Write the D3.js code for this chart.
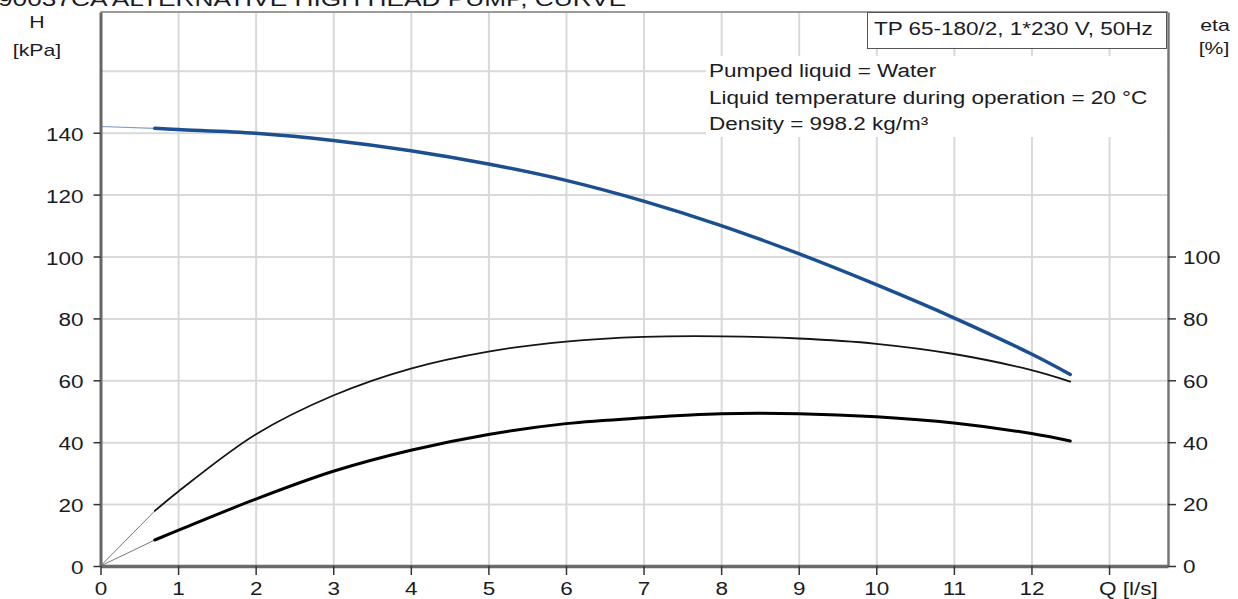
<!DOCTYPE html>
<html>
<head>
<meta charset="utf-8">
<script src="https://cdn.jsdelivr.net/npm/d3@7"></script>
<style>
    body { margin: 0; background: #fff; }
    svg { display: block; }
</style>
</head>
<body>
<svg id="chart" width="1238" height="599"></svg>
<script>
'use strict';

// flow points of the duty range, l/s
var flow = [0.7, 1, 2, 3, 4, 5, 6, 7, 8, 9, 10, 11, 12, 12.5];
var head = [141.4, 141.0, 139.8, 137.5, 134.2, 129.9, 124.6, 117.9, 110.0, 100.9, 90.9, 80.2, 68.5, 61.9];
var etaPump = [17.8, 24.0, 42.5, 55.1, 63.8, 69.3, 72.5, 74.0, 74.2, 73.5, 71.8, 68.5, 63.3, 59.6];
var etaTotal = [8.4, 11.5, 21.6, 30.6, 37.4, 42.5, 46.0, 47.9, 49.2, 49.2, 48.2, 46.2, 42.8, 40.4];

// thin lead-in from zero flow to the first duty point
var leadFlow = [0, 0.7];
var headLead = [142.0, 141.4];
var etaPumpLead = [0, 17.8];
var etaTotalLead = [0, 8.4];

var hTicks = [0, 20, 40, 60, 80, 100, 120, 140];
var etaTicks = [0, 20, 40, 60, 80, 100];
var qTicks = [0, 1, 2, 3, 4, 5, 6, 7, 8, 9, 10, 11, 12, 13];
var gridH = [20, 40, 60, 80, 100, 120, 140, 160];
var gridQ = [1, 2, 3, 4, 5, 6, 7, 8, 9, 10, 11, 12, 13];

var title = '90037CA ALTERNATIVE HIGH HEAD PUMP, CURVE';
var pumpName = 'TP 65-180/2, 1*230 V, 50Hz';
var infoLines = [
    'Pumped liquid = Water',
    'Liquid temperature during operation = 20 \u00b0C',
    'Density = 998.2 kg/m\u00b3'
];

var SX = 1.25;   // the source picture is stretched sideways
var FONT = '"Liberation Sans", Arial, sans-serif';
var TEXT = '#1b1b24';

var plotL = 100.5, plotR = 1168, plotT = 12, plotB = 566;

var x = d3.scaleLinear().domain([0, 13.76]).range([plotL, plotR]);
var y = d3.scaleLinear().domain([0, 179]).range([plotB, plotT]);

var svg = d3.select('#chart');

function label(sel, str, px, py, anchor, size) {
    return sel.append('text')
        .attr('transform', 'translate(' + px + ',' + py + ') scale(' + SX + ',1)')
        .attr('text-anchor', anchor)
        .style('font-family', FONT)
        .style('font-size', size + 'px')
        .style('fill', TEXT)
        .text(str);
}

// grid
svg.append('g')
    .attr('transform', 'translate(0,' + plotB + ')')
    .call(d3.axisBottom(x).tickValues(gridQ).tickSize(-(plotB - plotT)).tickFormat(''))
    .call(function(g) { g.select('.domain').remove(); })
    .selectAll('line').attr('stroke', '#d7d9da').attr('stroke-width', 2);

svg.append('g')
    .attr('transform', 'translate(' + plotL + ',0)')
    .call(d3.axisLeft(y).tickValues(gridH).tickSize(-(plotR - plotL)).tickFormat(''))
    .call(function(g) { g.select('.domain').remove(); })
    .selectAll('line').attr('stroke', '#d7d9da').attr('stroke-width', 2);

// top border
svg.append('line')
    .attr('x1', plotL).attr('x2', plotR)
    .attr('y1', plotT).attr('y2', plotT)
    .attr('stroke', '#9a9a9a').attr('stroke-width', 2);

// white panel behind the liquid text and the pump name box
svg.append('rect')
    .attr('x', 706).attr('y', 56)
    .attr('width', plotR - 706 - 1).attr('height', 81)
    .attr('fill', '#fff');

svg.append('rect')
    .attr('x', 867.5).attr('y', plotT + 0.5)
    .attr('width', plotR - 867.5 - 1.5).attr('height', 36)
    .attr('fill', '#fff')
    .attr('stroke', '#555').attr('stroke-width', 1);

// curves
var line = d3.line()
    .x(function(d) { return x(d[0]); })
    .y(function(d) { return y(d[1]); })
    .curve(d3.curveCatmullRom.alpha(0.5));

function series(q, v) {
    return q.map(function(d, i) { return [d, v[i]]; });
}

var curves = [
    {pts: series(leadFlow, headLead), color: '#7f9cc4', width: 1.2},
    {pts: series(leadFlow, etaPumpLead), color: '#777', width: 1},
    {pts: series(leadFlow, etaTotalLead), color: '#777', width: 1},
    {pts: series(flow, etaPump), color: '#151515', width: 1.8},
    {pts: series(flow, etaTotal), color: '#000', width: 3},
    {pts: series(flow, head), color: '#1b4f8f', width: 3.5}
];

svg.append('g').selectAll('path')
    .data(curves)
    .enter().append('path')
    .attr('d', function(d) { return line(d.pts); })
    .attr('fill', 'none')
    .attr('stroke', function(d) { return d.color; })
    .attr('stroke-width', function(d) { return d.width; })
    .attr('stroke-linecap', 'round');

// axes
function styleAxis(g, domainColor, domainWidth, textX, textDy) {
    g.select('.domain').attr('stroke', domainColor).attr('stroke-width', domainWidth);
    g.selectAll('.tick line').attr('stroke', '#333').attr('stroke-width', 1.5);
    var t = g.selectAll('.tick text')
        .style('font-family', FONT)
        .style('font-size', '18px')
        .style('fill', TEXT)
        .attr('transform', 'scale(' + SX + ',1)');
    if(textX !== null) t.attr('x', textX / SX);
    if(textDy !== null) t.attr('dy', textDy);
}

svg.append('g')
    .attr('transform', 'translate(' + plotL + ',0)')
    .call(d3.axisLeft(y).tickValues(hTicks).tickSize(7).tickSizeOuter(0).tickPadding(10))
    .call(styleAxis, '#666', 3, -17, '0.42em');

svg.append('g')
    .attr('transform', 'translate(' + plotR + ',0)')
    .call(d3.axisRight(y).tickValues(etaTicks).tickSize(8).tickSizeOuter(0).tickPadding(7))
    .call(styleAxis, '#777', 2.5, 15, '0.38em');

svg.append('g')
    .attr('transform', 'translate(0,' + plotB + ')')
    .call(d3.axisBottom(x).tickValues(qTicks).tickSize(9).tickSizeOuter(0).tickPadding(7)
        .tickFormat(function(d) { return d === 13 ? '' : d; }))
    .call(styleAxis, '#6a6a6a', 3.5, null, null);

// axis titles
label(svg, 'H', 37, 28, 'middle', 17);
label(svg, '[kPa]', 37, 56, 'middle', 17);
label(svg, 'eta', 1215, 31, 'middle', 17);
label(svg, '[%]', 1214, 54, 'middle', 17);
label(svg, 'Q [l/s]', x(13) - 10, 595, 'start', 18);

// heading, cut off by the top edge as in the source
label(svg, title, -2, 6, 'start', 21);

// pump name and liquid info
label(svg, pumpName, 874, 35, 'start', 18);

infoLines.forEach(function(s, i) {
    label(svg, s, 709, 77 + i * 26.5, 'start', 18);
});
</script>
</body>
</html>
